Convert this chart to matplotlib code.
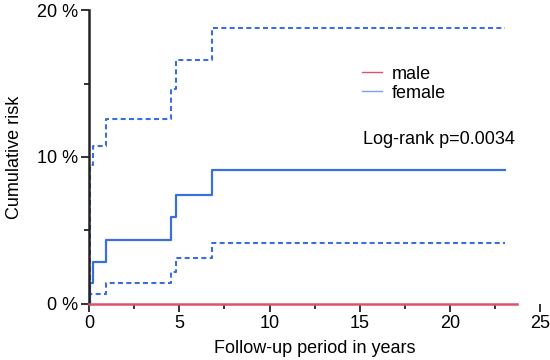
import matplotlib
matplotlib.use("Agg")
import matplotlib.pyplot as plt
from matplotlib.lines import Line2D
from matplotlib.ticker import MultipleLocator

plt.rcParams['font.family'] = ['Liberation Sans', 'DejaVu Sans']

# female: cumulative risk (%) with 95% CI, step function
female_t = [0, 0.07, 0.2, 0.93, 4.55, 4.8, 6.8, 23.05]
female_est = [0, 1.45, 2.88, 4.35, 5.9, 7.44, 9.12, 9.12]
female_upper = [0, 9.45, 10.77, 12.56, 14.6, 16.6, 18.8, 18.8]
female_lower = [0, 0.68, 0.7, 1.43, 2.2, 3.15, 4.17, 4.17]

# male: no events
male_t = [0, 23.7]
male_est = [0, 0]

blue = "#3b6fdc"
red = "#e0506a"

fig = plt.figure(figsize=(5.5, 3.6), dpi=100)
ax = fig.add_axes([0.162, 0.156, 0.82, 0.816])

ax.plot(female_t, female_upper, drawstyle="steps-post", color=blue, lw=1.5,
        ls=(0, (2.4, 1.6)), clip_on=False)
ax.plot(female_t, female_lower, drawstyle="steps-post", color=blue, lw=1.5,
        ls=(0, (2.4, 1.6)), clip_on=False)
ax.plot(female_t, female_est, drawstyle="steps-post", color=blue, lw=1.6, clip_on=False)
ax.plot(male_t, male_est, color=red, lw=1.8, clip_on=False, zorder=5)

ax.set_xlim(0, 25)
ax.set_ylim(0, 20)
ax.xaxis.set_major_locator(MultipleLocator(5))
ax.xaxis.set_minor_locator(MultipleLocator(2.5))
ax.yaxis.set_minor_locator(MultipleLocator(5))
ax.set_yticks([0, 10, 20])
ax.set_yticklabels(["0 %", "10 %", "20 %"])

for s in ["top", "right", "bottom"]:
    ax.spines[s].set_visible(False)
ax.spines["left"].set_linewidth(1.8)
ax.spines["left"].set_color("#222222")

ax.tick_params(axis="both", which="major", length=6, width=1.3, color="#222222",
               labelsize=13, pad=2)
ax.tick_params(axis="both", which="minor", length=3.5, width=1.3, color="#222222")

ax.set_xlabel("Follow-up period in years", fontsize=13, labelpad=6)
ax.set_ylabel("Cumulative risk", fontsize=13, labelpad=10)

handles = [Line2D([], [], color=red, lw=1), Line2D([], [], color="#7aa3ec", lw=1)]
ax.legend(handles, ["male", "female"], loc="upper left", bbox_to_anchor=(0.59, 0.835),
          frameon=False, fontsize=13, handlelength=1.1, handletextpad=0.5,
          labelspacing=0.1, borderaxespad=0)

ax.text(0.607, 0.558, "Log-rank p=0.0034", transform=ax.transAxes, fontsize=13,
        va="center", ha="left")

fig.savefig("out.png", dpi=100)
